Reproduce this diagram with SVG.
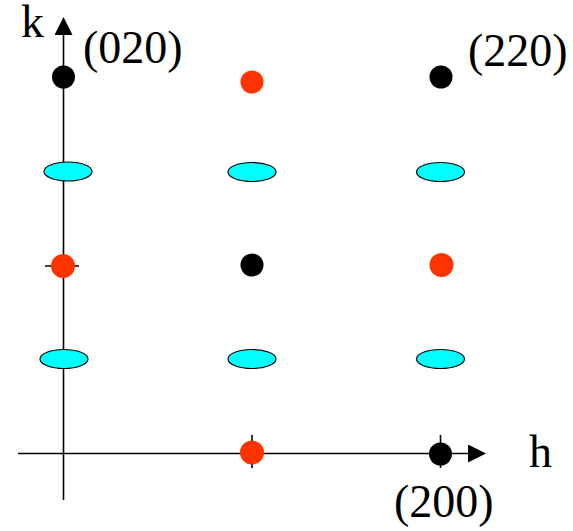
<svg xmlns="http://www.w3.org/2000/svg" width="573" height="531" viewBox="0 0 573 531">
<style>
.ax{stroke:#000;stroke-width:1.6;fill:none}
.blk{fill:#000}
.red{fill:#FF3300}
.cy{fill:#00FFFF;stroke:#000;stroke-width:1.2}
text{font-family:"Liberation Serif","Times New Roman",serif;font-size:46px;fill:#000}
</style>
<defs>
<marker id="arr" viewBox="0 0 10 10" refX="0" refY="5" markerWidth="20" markerHeight="18" markerUnits="userSpaceOnUse" orient="auto">
<path d="M0,0 L10,5 L0,10 Z" fill="#000"/>
</marker>
</defs>
<g id="connectors">
<line class="ax" x1="63.5" y1="500" x2="63.5" y2="35" marker-end="url(#arr)" id="k-axis"/>
<line class="ax" x1="18" y1="453.5" x2="468" y2="453.5" marker-end="url(#arr)" id="h-axis"/>
<line class="ax" x1="45" y1="266" x2="79" y2="266"/>
<line class="ax" x1="252" y1="435" x2="252" y2="468"/>
<line class="ax" x1="440.5" y1="435" x2="440.5" y2="468"/>
</g>
<g id="n020"><circle class="blk" cx="63.5" cy="77" r="11.5"/></g>
<g id="n120"><circle class="red" cx="252" cy="82" r="11.5"/></g>
<g id="n220"><circle class="blk" cx="441" cy="77" r="11.5"/></g>
<g id="e1"><ellipse class="cy" cx="68" cy="171.5" rx="24" ry="9.5"/></g>
<g id="e2"><ellipse class="cy" cx="252" cy="172" rx="24" ry="9.5"/></g>
<g id="e3"><ellipse class="cy" cx="440.5" cy="172" rx="24" ry="9.5"/></g>
<g id="n010"><circle class="red" cx="63" cy="266" r="12"/></g>
<g id="n110"><circle class="blk" cx="252" cy="265" r="11.5"/></g>
<g id="n210"><circle class="red" cx="441.5" cy="265" r="12"/></g>
<g id="e4"><ellipse class="cy" cx="64" cy="359" rx="24" ry="9.5"/></g>
<g id="e5"><ellipse class="cy" cx="252" cy="359" rx="24" ry="9.5"/></g>
<g id="e6"><ellipse class="cy" cx="440.5" cy="359" rx="24" ry="9.5"/></g>
<g id="n100"><circle class="red" cx="252" cy="452.5" r="12"/></g>
<g id="n200"><circle class="blk" cx="440.5" cy="454" r="11.5"/></g>
<g id="labels">
<text x="21" y="37">k</text>
<text x="83" y="63">(020)</text>
<text x="468" y="66">(220)</text>
<text x="529" y="467">h</text>
<text x="394" y="517">(200)</text>
</g>
</svg>
